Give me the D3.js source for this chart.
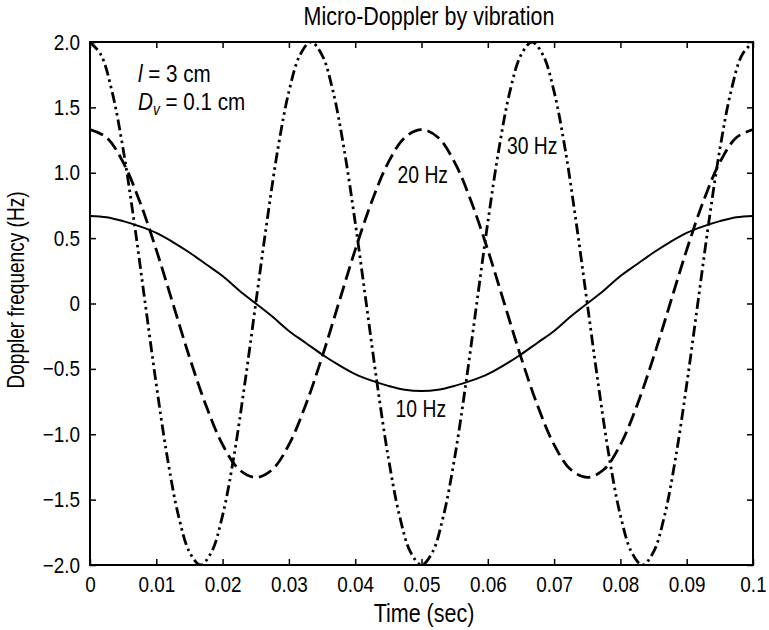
<!DOCTYPE html>
<html>
<head>
<meta charset="utf-8">
<script src="https://cdn.jsdelivr.net/npm/d3@7"></script>
<style>
  body { margin: 0; background: #fff; }
  svg text { font-family: "Liberation Sans", Arial, sans-serif; fill: #000; }
</style>
</head>
<body>
<svg id="chart"></svg>
<script>
// sample times (sec) for the 10 Hz and 20 Hz curves
var timeA = [0, 0.0025, 0.005, 0.0075, 0.01, 0.0125, 0.015, 0.0175, 0.02, 0.0225,
    0.025, 0.0275, 0.03, 0.0325, 0.035, 0.0375, 0.04, 0.0425, 0.045, 0.0475,
    0.05, 0.0525, 0.055, 0.0575, 0.06, 0.0625, 0.065, 0.0675, 0.07, 0.0725,
    0.075, 0.0775, 0.08, 0.0825, 0.085, 0.0875, 0.09, 0.0925, 0.095, 0.0975, 0.1];

var hz10 = [0.67, 0.66, 0.63, 0.59, 0.54, 0.47, 0.39, 0.30, 0.21, 0.10,
    0, -0.10, -0.21, -0.30, -0.39, -0.47, -0.54, -0.59, -0.63, -0.66,
    -0.67, -0.66, -0.63, -0.59, -0.54, -0.47, -0.39, -0.30, -0.21, -0.10,
    0, 0.10, 0.21, 0.30, 0.39, 0.47, 0.54, 0.59, 0.63, 0.66, 0.67];

var hz20 = [1.33, 1.27, 1.08, 0.78, 0.41, 0, -0.41, -0.78, -1.08, -1.27,
    -1.33, -1.27, -1.08, -0.78, -0.41, 0, 0.41, 0.78, 1.08, 1.27,
    1.33, 1.27, 1.08, 0.78, 0.41, 0, -0.41, -0.78, -1.08, -1.27,
    -1.33, -1.27, -1.08, -0.78, -0.41, 0, 0.41, 0.78, 1.08, 1.27, 1.33];

// the 30 Hz curve is read at a finer step
var timeB = [0, 0.00167, 0.00333, 0.005, 0.00667, 0.00833, 0.01, 0.01167, 0.01333, 0.015,
    0.01667, 0.01833, 0.02, 0.02167, 0.02333, 0.025, 0.02667, 0.02833, 0.03, 0.03167,
    0.03333, 0.035, 0.03667, 0.03833, 0.04, 0.04167, 0.04333, 0.045, 0.04667, 0.04833,
    0.05, 0.05167, 0.05333, 0.055, 0.05667, 0.05833, 0.06, 0.06167, 0.06333, 0.065,
    0.06667, 0.06833, 0.07, 0.07167, 0.07333, 0.075, 0.07667, 0.07833, 0.08, 0.08167,
    0.08333, 0.085, 0.08667, 0.08833, 0.09, 0.09167, 0.09333, 0.095, 0.09667, 0.09833, 0.1];

var hz30 = [2.00, 1.90, 1.62, 1.18, 0.62, 0, -0.62, -1.18, -1.62, -1.90,
    -2.00, -1.90, -1.62, -1.18, -0.62, 0, 0.62, 1.18, 1.62, 1.90,
    2.00, 1.90, 1.62, 1.18, 0.62, 0, -0.62, -1.18, -1.62, -1.90,
    -2.00, -1.90, -1.62, -1.18, -0.62, 0, 0.62, 1.18, 1.62, 1.90,
    2.00, 1.90, 1.62, 1.18, 0.62, 0, -0.62, -1.18, -1.62, -1.90,
    -2.00, -1.90, -1.62, -1.18, -0.62, 0, 0.62, 1.18, 1.62, 1.90, 2.00];

var xTicks = [0, 0.01, 0.02, 0.03, 0.04, 0.05, 0.06, 0.07, 0.08, 0.09, 0.1];
var xTickLabels = ["0", "0.01", "0.02", "0.03", "0.04", "0.05", "0.06", "0.07", "0.08", "0.09", "0.1"];
var yTicks = [2, 1.5, 1, 0.5, 0, -0.5, -1, -1.5, -2];
var yTickLabels = ["2.0", "1.5", "1.0", "0.5", "0", "\u22120.5", "\u22121.0", "\u22121.5", "\u22122.0"];

var dimensions = {
    width: 769,
    height: 630,
    margin: { top: 42, bottom: 65, left: 90, right: 16 }
};

var svg = d3.select("#chart")
    .attr("width", dimensions.width)
    .attr("height", dimensions.height);

// the original uses a condensed face: narrow a text horizontally
// while keeping its anchor where it was
function condense(sel, squeeze, rotate) {
    sel.each(function() {
        var t = d3.select(this);
        var x = +(t.attr("x") || 0);
        t.attr("x", x / squeeze)
            .attr("transform", (rotate ? "rotate(" + rotate + ") " : "") + "scale(" + squeeze + ",1)");
    });
}

var xScale = d3.scaleLinear()
    .domain([0, 0.1])
    .range([dimensions.margin.left, dimensions.width - dimensions.margin.right]);

var yScale = d3.scaleLinear()
    .domain([-2, 2])
    .range([dimensions.height - dimensions.margin.bottom, dimensions.margin.top]);

var plotW = xScale.range()[1] - xScale.range()[0];
var plotH = yScale.range()[0] - yScale.range()[1];

// clip curves to the plot box
svg.append("clipPath").attr("id", "clip")
    .append("rect")
    .attr("x", dimensions.margin.left)
    .attr("y", dimensions.margin.top)
    .attr("width", plotW)
    .attr("height", plotH);

var line = d3.line()
    .x(function(d) { return xScale(d[0]); })
    .y(function(d) { return yScale(d[1]); })
    .curve(d3.curveCatmullRom);

var series = [
    { t: timeA, v: hz10, dash: null, width: 2 },
    { t: timeA, v: hz20, dash: "14,6", width: 2.8 },
    { t: timeB, v: hz30, dash: "11,4,2.5,4,2.5,4", width: 2.8 }
];

svg.append("g").attr("clip-path", "url(#clip)")
    .selectAll("path")
    .data(series)
    .enter()
    .append("path")
    .attr("d", function(s) { return line(s.t.map(function(t, i) { return [t, s.v[i]]; })); })
    .attr("fill", "none")
    .attr("stroke", "#000")
    .attr("stroke-width", function(s) { return s.width; })
    .attr("stroke-dasharray", function(s) { return s.dash; });

// axes with inward ticks on all four sides
var xBottom = d3.axisBottom(xScale).tickValues(xTicks)
    .tickFormat(function(d, i) { return xTickLabels[i]; })
    .tickSize(-6).tickPadding(11);
var yLeft = d3.axisLeft(yScale).tickValues(yTicks)
    .tickFormat(function(d, i) { return yTickLabels[i]; })
    .tickSize(-6).tickPadding(10);
var xTop = d3.axisTop(xScale).tickValues(xTicks).tickFormat("").tickSize(-6);
var yRight = d3.axisRight(yScale).tickValues(yTicks).tickFormat("").tickSize(-6);

function styleAxis(g) {
    g.select(".domain").remove();
    g.attr("font-family", null).attr("font-size", null);
    g.selectAll(".tick line").attr("stroke", "#000").attr("stroke-width", 1.5);
    g.selectAll(".tick text")
        .style("font-size", "22px")
        .attr("fill", "#000")
        .call(condense, 0.86);
}

svg.append("g")
    .attr("transform", "translate(0," + yScale(-2) + ")")
    .call(xBottom).call(styleAxis);
svg.append("g")
    .attr("transform", "translate(" + xScale(0) + ",0)")
    .call(yLeft).call(styleAxis);
svg.append("g")
    .attr("transform", "translate(0," + yScale(2) + ")")
    .call(xTop).call(styleAxis);
svg.append("g")
    .attr("transform", "translate(" + xScale(0.1) + ",0)")
    .call(yRight).call(styleAxis);

// frame
svg.append("rect")
    .attr("x", xScale(0))
    .attr("y", yScale(2))
    .attr("width", plotW)
    .attr("height", plotH)
    .attr("fill", "none")
    .attr("stroke", "#000")
    .attr("stroke-width", 2);

// title and axis labels
svg.append("text")
    .attr("x", 429)
    .attr("y", 25)
    .style("text-anchor", "middle")
    .style("font-size", "25px")
    .text("Micro-Doppler by vibration")
    .call(condense, 0.86);

svg.append("text")
    .attr("x", 424)
    .attr("y", 622)
    .style("text-anchor", "middle")
    .style("font-size", "25px")
    .text("Time (sec)")
    .call(condense, 0.86);

svg.append("text")
    .attr("x", -290)
    .attr("y", 24)
    .style("text-anchor", "middle")
    .style("font-size", "23px")
    .text("Doppler frequency (Hz)")
    .call(condense, 0.83, -90);

// curve labels
var curveLabels = [
    { text: "10 Hz", t: 0.0499, v: -0.87 },
    { text: "20 Hz", t: 0.0502, v: 0.92 },
    { text: "30 Hz", t: 0.0667, v: 1.14 }
];
svg.selectAll(".clabel")
    .data(curveLabels)
    .enter()
    .append("text")
    .attr("class", "clabel")
    .attr("x", function(d) { return xScale(d.t); })
    .attr("y", function(d) { return yScale(d.v); })
    .style("text-anchor", "middle")
    .style("font-size", "23px")
    .text(function(d) { return d.text; })
    .call(condense, 0.84);

// parameter notes
var note1 = svg.append("text")
    .attr("x", 138)
    .attr("y", 82)
    .style("font-size", "24px");
note1.append("tspan").style("font-style", "italic").text("l");
note1.append("tspan").text(" = 3 cm");
note1.call(condense, 0.86);

var note2 = svg.append("text")
    .attr("x", 138)
    .attr("y", 110)
    .style("font-size", "24px");
note2.append("tspan").style("font-style", "italic").text("D");
note2.append("tspan").style("font-style", "italic")
    .style("font-size", "16px").attr("dy", 5).text("v");
note2.append("tspan").attr("dy", -5).text(" = 0.1 cm");
note2.call(condense, 0.86);
</script>
</body>
</html>
